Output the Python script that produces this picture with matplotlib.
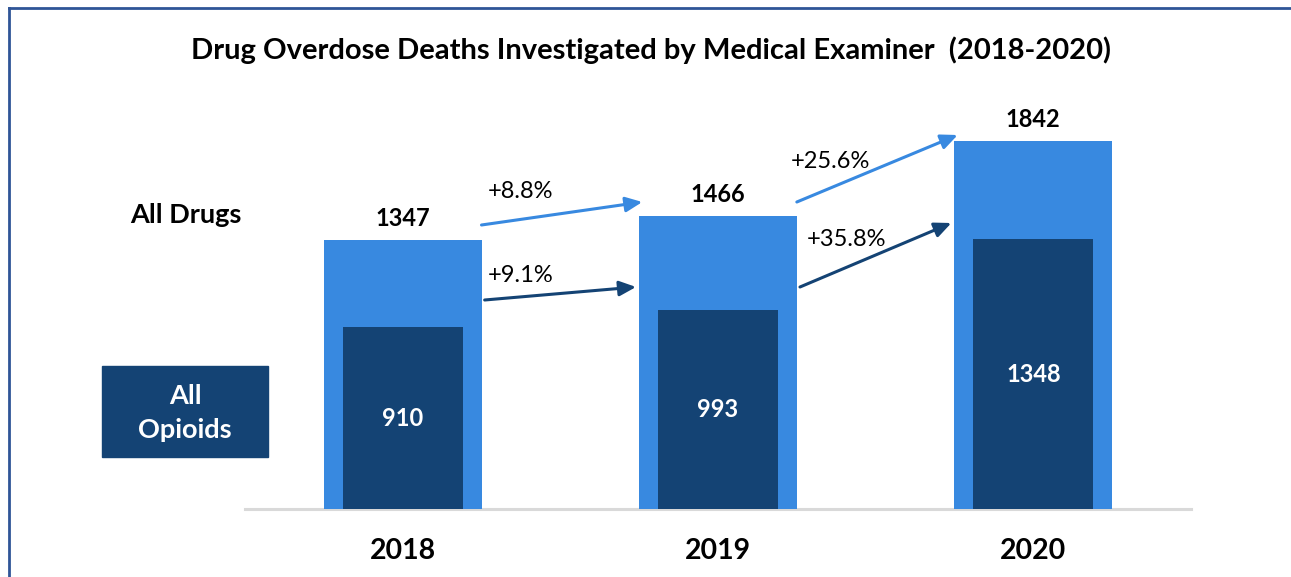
import matplotlib
matplotlib.use("Agg")
import matplotlib.pyplot as plt
from matplotlib.lines import Line2D
from matplotlib.patches import Rectangle

plt.rcParams['font.family'] = ['Lato', 'DejaVu Sans']

# Data
years = ["2018", "2019", "2020"]
all_drugs = [1347, 1466, 1842]
all_opioids = [910, 993, 1348]

title = "Drug Overdose Deaths Investigated by Medical Examiner  (2018-2020)"
series_labels = ["All Drugs", "All\nOpioids"]

LIGHT = "#3889E0"
DARK = "#144374"
FRAME = "#2F5597"

W, H = 1291, 577
fig = plt.figure(figsize=(W / 100, H / 100), dpi=100)

# axes: baseline at y=509 px, 0.2 px per death
ax_left, ax_right = 245, 1191
ax_bottom_px, ax_top_px = 509, 109
ax = fig.add_axes([ax_left / W, (H - ax_bottom_px) / H,
                   (ax_right - ax_left) / W, (ax_bottom_px - ax_top_px) / H])
ax.set_xlim(-0.5, 2.5)
ax.set_ylim(0, 2000)
ax.axis("off")

x = list(range(len(years)))
ax.bar(x, all_drugs, width=0.5, color=LIGHT, zorder=2)
ax.bar(x, all_opioids, width=0.38, color=DARK, zorder=3)

# baseline
ax.plot([-0.5, 2.5], [0, 0], color="#D9D9D9", lw=2.2, zorder=1, clip_on=False)

for xi, d, o, yr in zip(x, all_drugs, all_opioids, years):
    ax.text(xi, d + 50, f"{d}", ha="center", va="bottom", fontsize=17,
            fontweight="bold", color="black")
    ax.text(xi, o / 2, f"{o}", ha="center", va="center", fontsize=17,
            fontweight="bold", color="white", zorder=4)
    ax.text(xi, -210, yr, ha="center", va="center", fontsize=20.5,
            fontweight="bold", color="black", clip_on=False)

# growth arrows between years
light_offsets = [(73, 69), (69, 28)]
dark_offsets = [(135, 117), (117, 82)]
light_label_y = [1590, 1735]
dark_label_y = [1165, 1345]
light_label_x = [0.27, 1.23]
dark_label_x = [0.27, 1.28]
for i in range(len(years) - 1):
    pd_ = (all_drugs[i + 1] / all_drugs[i] - 1) * 100
    po_ = (all_opioids[i + 1] / all_opioids[i] - 1) * 100
    x0, x1 = i + 0.25, i + 0.76
    ax.annotate("", xy=(x1, all_drugs[i + 1] + light_offsets[i][1]),
                xytext=(x0, all_drugs[i] + light_offsets[i][0]),
                arrowprops=dict(arrowstyle="-|>,head_length=1.0,head_width=0.45",
                                color=LIGHT, lw=2.2, shrinkA=0, shrinkB=0),
                zorder=5)
    ax.annotate("", xy=(x1 - 0.02, all_opioids[i + 1] + dark_offsets[i][1]),
                xytext=(x0 + 0.01, all_opioids[i] + dark_offsets[i][0]),
                arrowprops=dict(arrowstyle="-|>,head_length=1.0,head_width=0.45",
                                color=DARK, lw=2.2, shrinkA=0, shrinkB=0),
                zorder=5)
    ax.text(light_label_x[i], light_label_y[i], f"+{pd_:.1f}%", ha="left",
            va="center", fontsize=17, color="black")
    ax.text(dark_label_x[i], dark_label_y[i], f"+{po_:.1f}%", ha="left",
            va="center", fontsize=17, color="black")

# series labels
fig.text(186 / W, 1 - 215 / H, series_labels[0], ha="center", va="center",
         fontsize=19.5, fontweight="bold", color="black")
fig.patches.append(Rectangle((102 / W, 1 - 457 / H), 166 / W, 91 / H,
                             transform=fig.transFigure, color=DARK, zorder=1))
fig.text(185 / W, 1 - 413 / H, series_labels[1], ha="center", va="center",
         fontsize=19.5, fontweight="bold", color="white", linespacing=1.55)

# title
fig.text(651 / W, 1 - 50 / H, title, ha="center", va="center", fontsize=21,
         fontweight="bold", color="black")

# frame lines at top and left
fig.add_artist(Line2D([9 / W, 1], [1 - 8 / H, 1 - 8 / H], transform=fig.transFigure,
                      color=FRAME, lw=2))
fig.add_artist(Line2D([9 / W, 9 / W], [0, 1 - 8 / H], transform=fig.transFigure,
                      color=FRAME, lw=2))

fig.savefig("out.png", dpi=100, facecolor="white")
